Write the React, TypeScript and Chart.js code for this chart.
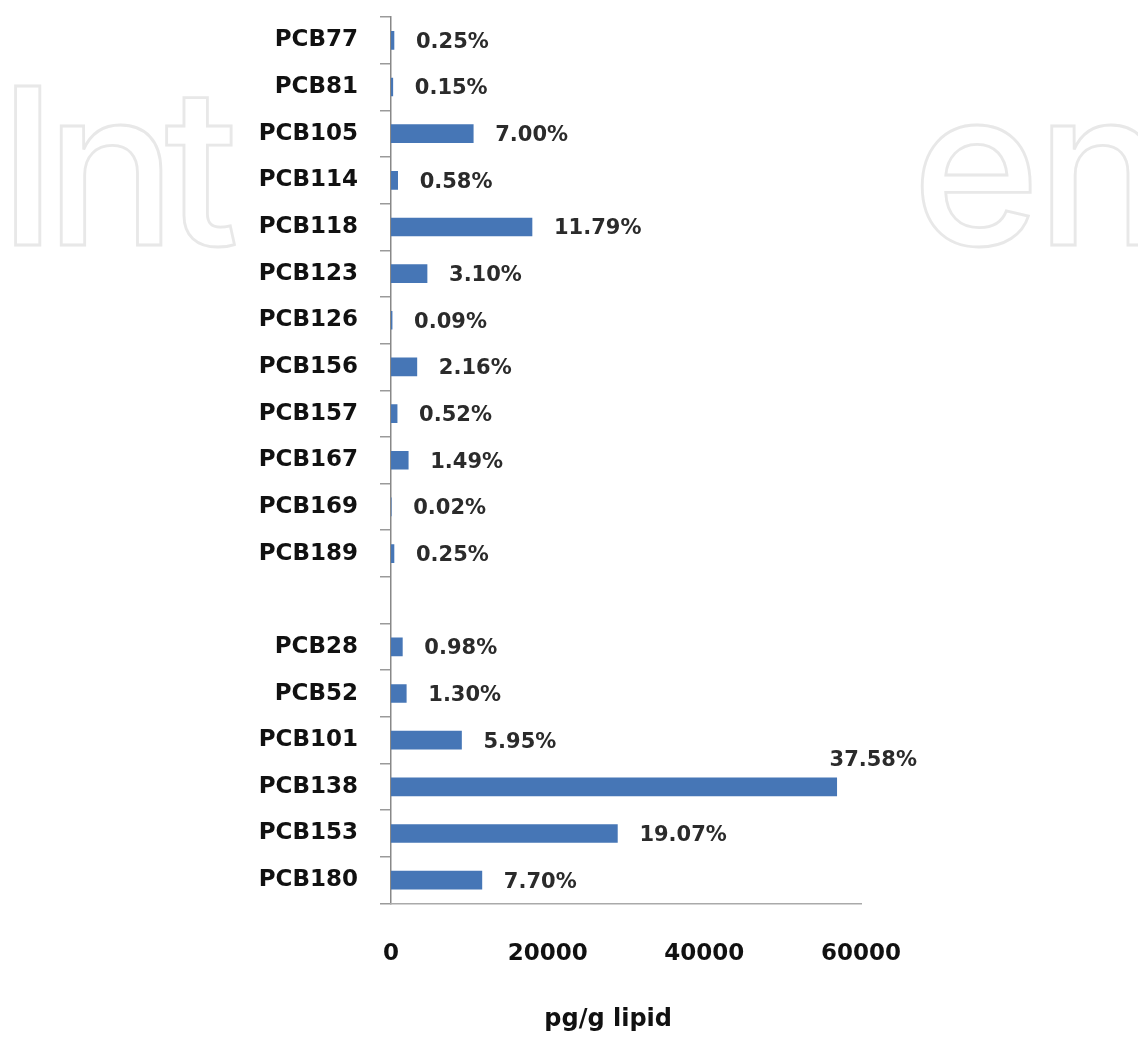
import React, { useEffect, useRef } from 'react';
import { Chart, registerables } from 'chart.js';

Chart.register(...registerables);

// ---- data ----
const categories = [
  'PCB77', 'PCB81', 'PCB105', 'PCB114', 'PCB118', 'PCB123', 'PCB126', 'PCB156',
  'PCB157', 'PCB167', 'PCB169', 'PCB189', '', 'PCB28', 'PCB52', 'PCB101',
  'PCB138', 'PCB153', 'PCB180',
];
const concentrations: (number | null)[] = [
  380, 230, 10500, 850, 18000, 4600, 140, 3300,
  780, 2200, 30, 380, null, 1450, 1950, 9000,
  56900, 28900, 11600,
];
const percentLabels = [
  '0.25%', '0.15%', '7.00%', '0.58%', '11.79%', '3.10%', '0.09%', '2.16%',
  '0.52%', '1.49%', '0.02%', '0.25%', '', '0.98%', '1.30%', '5.95%',
  '37.58%', '19.07%', '7.70%',
];
const xTicks = [0, 20000, 40000, 60000];
const xAxisTitle = 'pg/g lipid';
const watermarkLeft = 'Int';
const watermarkRight = 'en';

const FONT = '"DejaVu Sans", "Liberation Sans", sans-serif';

const labelPlugin = {
  id: 'pctLabels',
  afterDatasetsDraw(chart: any) {
    const ctx = chart.ctx;
    const meta = chart.getDatasetMeta(0);
    ctx.save();
    ctx.font = `bold 21px ${FONT}`;
    ctx.fillStyle = '#2b2b2b';
    meta.data.forEach((el: any, i: number) => {
      const txt = percentLabels[i];
      if (!txt || concentrations[i] == null) return;
      const w = ctx.measureText(txt).width;
      const gap = 22;
      ctx.textBaseline = 'middle';
      if (el.x + gap + w > chart.width - 2) {
        ctx.textAlign = 'right';
        ctx.fillText(txt, chart.width - 3, el.y - 26);
      } else {
        ctx.textAlign = 'left';
        ctx.fillText(txt, el.x + gap, el.y + 2);
      }
    });
    // axis title
    const a = chart.chartArea;
    ctx.font = `bold 24px ${FONT}`;
    ctx.fillStyle = '#111';
    ctx.textAlign = 'center';
    ctx.textBaseline = 'alphabetic';
    ctx.fillText(xAxisTitle, a.left + (a.right - a.left) * 0.462, chart.height - 11);
    ctx.restore();
  },
};

export default function App() {
  const ref = useRef<HTMLCanvasElement>(null);
  useEffect(() => {
    if (!ref.current) return;
    const chart = new Chart(ref.current, {
      type: 'bar',
      data: {
        labels: categories,
        datasets: [
          {
            data: concentrations as any,
            backgroundColor: '#4676b6',
            borderWidth: 0,
            barThickness: 18,
          },
        ],
      },
      options: {
        indexAxis: 'y',
        animation: false,
        responsive: false,
        layout: { padding: { top: 17, right: 59, left: 0, bottom: 0 } },
        plugins: { legend: { display: false }, tooltip: { enabled: false }, title: { display: false } },
        scales: {
          y: {
            type: 'category',
            offset: true,
            grid: {
              display: true,
              offset: true,
              drawOnChartArea: false,
              drawTicks: true,
              tickLength: 11,
              color: '#9a9a9a',
              lineWidth: 1.5,
            },
            border: { display: true, color: '#888', width: 1.5 },
            ticks: {
              color: '#111',
              padding: 22,
              font: { family: FONT, size: 23, weight: 'bold' },
            },
            afterFit(scale: any) {
              scale.width = 151;
              scale.paddingTop = 0;
              scale.paddingBottom = 0;
            },
          },
          x: {
            type: 'linear',
            min: xTicks[0],
            max: xTicks[xTicks.length - 1],
            grid: { display: false, drawTicks: false },
            border: { display: true, color: '#aaa', width: 1.5 },
            afterBuildTicks(scale: any) {
              scale.ticks = xTicks.map((v) => ({ value: v }));
            },
            ticks: {
              color: '#111',
              padding: 37,
              maxRotation: 0,
              font: { family: FONT, size: 23, weight: 'bold' },
              callback: (v: any) => String(v),
            },
            afterFit(scale: any) {
              scale.height = 133.5;
              scale.paddingLeft = 0;
              scale.paddingRight = 0;
            },
          },
        },
      },
      plugins: [labelPlugin],
    });
    return () => chart.destroy();
  }, []);

  return (
    <div style={{ position: 'absolute', left: 0, top: 0, width: 1138, height: 1037, background: '#fff', overflow: 'hidden' }}>
      <svg width={1138} height={1037} style={{ position: 'absolute', left: 0, top: 0 }}>
        <text x={-2} y={245} fontFamily="Inter, 'Open Sans', sans-serif" fontSize={218} fontWeight={500}
          letterSpacing={-12} fill="none" stroke="#e8e8e8" strokeWidth={2.8}>{watermarkLeft}</text>
        <text x={912} y={245} fontFamily="Inter, 'Open Sans', sans-serif" fontSize={218} fontWeight={500}
          letterSpacing={-4} fill="none" stroke="#e8e8e8" strokeWidth={2.8}>{watermarkRight}</text>
      </svg>
      <canvas ref={ref} width={680} height={1037}
        style={{ position: 'absolute', left: 240, top: 0, width: 680, height: 1037, background: '#fff' }} />
    </div>
  );
}
